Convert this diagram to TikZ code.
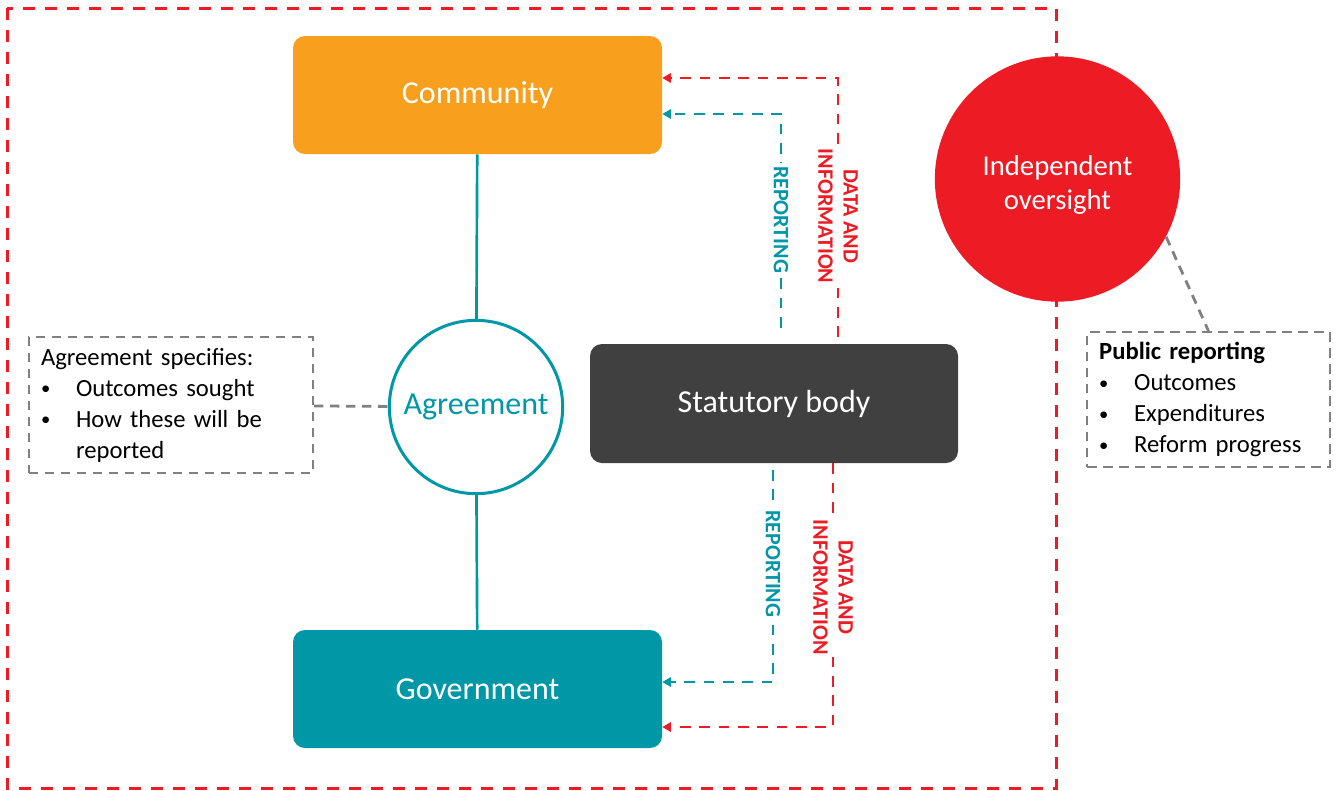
\documentclass[tikz,border=0pt]{standalone}
\usepackage{fontspec}
\setmainfont{Carlito}
\usepackage{xcolor}
\usepackage{tikz}
\usetikzlibrary{positioning, arrows.meta, calc}
\definecolor{commorange}{HTML}{F8A01E}
\definecolor{govteal}{HTML}{0097A7}
\definecolor{alertred}{HTML}{ED1C24}
\definecolor{bodygray}{HTML}{404041}
\definecolor{notegray}{HTML}{808080}
\newcommand{\notebullet}[1]{\makebox[26.25pt][l]{\raisebox{1pt}{\fontsize{14}{14}\selectfont\textbullet}}#1}

\begin{document}
\begin{tikzpicture}[x=0.75pt, y=-0.75pt,
    block/.style={rounded corners=9pt, minimum width=276.75pt, minimum height=88.5pt,
                  text=white, font=\fontsize{24}{29}\selectfont},
    note/.style={draw=notegray, line width=1.5pt, dash pattern=on 7pt off 5pt,
                 align=left, inner xsep=9pt, font=\fontsize{18.5}{23.25}\selectfont},
    flow/.style={line width=2.1pt, dash pattern=on 8pt off 6.5pt,
                 -{Triangle[length=6.5pt, width=7pt]}},
    flowlabel/.style={rotate=-90, fill=white, inner sep=2pt, align=center,
                      font=\bfseries\fontsize{16.5}{19}\selectfont}]

    \useasboundingbox (0,0) rectangle (1337,790);
    \draw[alertred, line width=2.25pt, dash pattern=on 9pt off 7.5pt] (7,8) rectangle (1056,788);

    \node[block, fill=commorange] (community) at (477.5,95) {Community};
    \node[block, fill=govteal] (government) at (477.5,689) {Government};
    \node[block, fill=bodygray, minimum width=276pt, minimum height=89.25pt] (statutory) at (774,403.5) {Statutory body};
    \node[circle, draw=govteal, line width=2.25pt, fill=white, minimum size=130pt,
          text=govteal, font=\fontsize{24}{29}\selectfont] (agreement) at (476,407) {Agreement};
    \node[circle, fill=alertred, minimum size=184pt, text=white,
          font=\fontsize{21.5}{25.5}\selectfont] (oversight) at (1057.5,179)
          {\raisebox{-10pt}[0pt][0pt]{\begin{tabular}{@{}c@{}}Independent\\oversight\end{tabular}}};

    \node[note, text width=195pt, minimum height=102pt] (specnote) at (171,405) {%
      Agreement specifies:\\
      \notebullet{Outcomes sought}\\
      \notebullet{How these will be}\\
      \hspace*{26.25pt}reported};
    \node[note, text width=164pt, minimum height=101.25pt] (pubnote) at (1208.5,399.5) {%
      \textbf{Public reporting}\\
      \notebullet{Outcomes}\\
      \notebullet{Expenditures}\\
      \notebullet{Reform progress}};

    \draw[govteal, line width=2pt] (community) -- (agreement);
    \draw[govteal, line width=2pt] (agreement) -- (government);
    \draw[notegray, line width=2.1pt, dash pattern=on 7pt off 5pt] (specnote) -- (agreement);
    \draw[notegray, line width=2.1pt, dash pattern=on 7pt off 5pt] (oversight.-28) -- (pubnote.north);

    % reporting lines from the statutory body
    \draw[flow, alertred, shorten <=5pt] ([xshift=48pt]statutory.north)
        |- node[flowlabel, text=alertred, pos=0.24] {DATA AND\\INFORMATION} ([yshift=12.75pt]community.east);
    \draw[flow, govteal, shorten <=12pt] ([xshift=5.25pt]statutory.north)
        |- node[flowlabel, text=govteal, pos=0.27] {REPORTING} ([yshift=-14.25pt]community.east);
    \draw[flow, govteal, shorten <=5pt] ([xshift=-0.75pt]statutory.south)
        |- node[flowlabel, text=govteal, pos=0.23] {REPORTING} ([yshift=5.25pt]government.east);
    \draw[flow, alertred] ([xshift=44.25pt]statutory.south)
        |- node[flowlabel, text=alertred, pos=0.235] {DATA AND\\INFORMATION} ([yshift=-28.5pt]government.east);
\end{tikzpicture}
\end{document}
